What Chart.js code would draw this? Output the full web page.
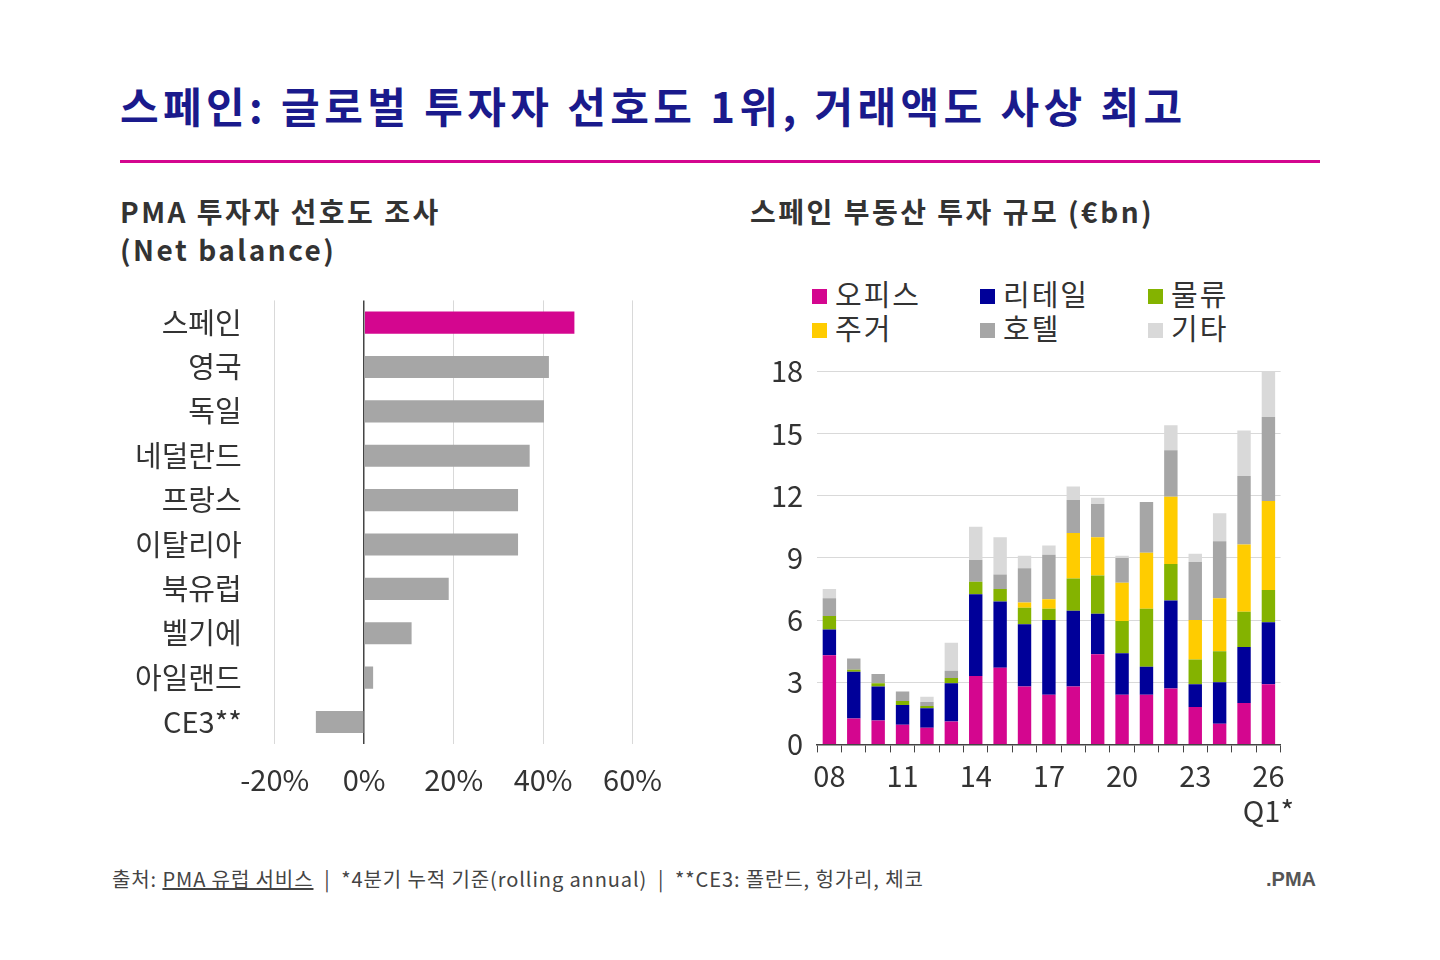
<!DOCTYPE html>
<html><head><meta charset="utf-8">
<script src="https://cdn.jsdelivr.net/npm/chart.js@4/dist/chart.umd.min.js"></script>
<style>
body{margin:0;width:1440px;height:960px;background:#fff;font-family:"Noto Sans CJK KR",Arial,sans-serif;position:relative;overflow:hidden}
.abs{position:absolute}
h1{position:absolute;left:120px;top:74px;margin:0;font-size:42px;font-weight:700;color:#1a1a8c;letter-spacing:4.4px;white-space:nowrap}
.rule{left:120px;top:160px;width:1200px;height:3px;background:#d4068f}
.sub{font-size:28px;font-weight:700;color:#333;line-height:38px;letter-spacing:2.5px}
.leg{left:812px;top:276px;font-size:29px;color:#333;display:grid;grid-template-columns:168px 168px 120px;line-height:34px;letter-spacing:2px}
.leg span i{display:inline-block;width:15px;height:15px;margin-right:8px;vertical-align:middle;position:relative;top:-2px}
.foot{left:112px;top:864px;font-size:20px;color:#444;letter-spacing:0.9px;white-space:nowrap}
</style></head><body>
<h1>스페인: 글로벌 투자자 선호도 1위, 거래액도 사상 최고</h1>
<div class="abs rule"></div>
<div class="abs sub" style="left:120px;top:192px">PMA 투자자 선호도 조사<br>(Net balance)</div>
<div class="abs sub" style="left:750px;top:192px">스페인 부동산 투자 규모 (€bn)</div>
<div class="abs leg" id="leg"></div>
<div class="abs" style="left:110px;top:258px;width:570px;height:557px"><canvas id="c1"></canvas></div>
<div class="abs" style="left:757px;top:340px;width:543px;height:494px"><canvas id="c2"></canvas></div>
<div class="abs foot">출처: <u>PMA 유럽 서비스</u> &nbsp;|&nbsp; *4분기 누적 기준(rolling annual) &nbsp;|&nbsp; **CE3: 폴란드, 헝가리, 체코</div>
<div class="abs" style="left:1266px;top:868px;font-size:20px;font-weight:700;color:#555;font-family:Arial">.PMA</div>
<script>
var countries = ['스페인','영국','독일','네덜란드','프랑스','이탈리아','북유럽','벨기에','아일랜드','CE3**'];
var netBalance = [47, 41.3, 40.2, 37, 34.4, 34.4, 18.9, 10.6, 2, -10.8];

var years = ['08','09','10','11','12','13','14','15','16','17','18','19','20','21','22','23','24','25','26'];
var office      = [4.3,1.25,1.15,0.95,0.8,1.1,3.3,3.7,2.8,2.4,2.8,4.35,2.4,2.4,2.7,1.8,1.0,2.0,2.9];
var retail      = [1.25,2.25,1.65,0.95,0.95,1.85,3.95,3.2,3.0,3.6,3.65,1.95,2.0,1.35,4.25,1.1,2.0,2.7,3.0];
var logistics   = [0.65,0.1,0.15,0.2,0.1,0.25,0.6,0.6,0.8,0.55,1.55,1.85,1.55,2.8,1.75,1.2,1.5,1.7,1.55];
var residential = [0,0,0,0,0,0,0,0,0.25,0.45,2.2,1.85,1.85,2.7,3.25,1.9,2.55,3.25,4.3];
var hotel       = [0.85,0.55,0.45,0.45,0.2,0.35,1.05,0.7,1.65,2.15,1.6,1.6,1.2,2.45,2.25,2.8,2.75,3.3,4.05];
var other       = [0.45,0,0,0,0.25,1.35,1.6,1.8,0.6,0.45,0.65,0.3,0.1,0,1.2,0.4,1.35,2.2,2.3];

var seriesNames = ['오피스','리테일','물류','주거','호텔','기타'];
var seriesColors = ['#d4068f','#000099','#84b300','#ffcc00','#a6a6a6','#d9d9d9'];
var seriesData = [office, retail, logistics, residential, hotel, other];

document.getElementById('leg').innerHTML = seriesNames.map(function (n, i) {
  return '<span><i style="background:' + seriesColors[i] + '"></i>' + n + '</span>';
}).join('');

var font = { family: '"Noto Sans CJK KR", Arial, sans-serif', size: 29 };
var tickColor = '#333';

new Chart(document.getElementById('c1'), {
  type: 'bar',
  data: { labels: countries, datasets: [{
    data: netBalance,
    backgroundColor: netBalance.map(function (v, i) { return i === 0 ? '#d4068f' : '#a6a6a6'; }),
    barPercentage: 0.5, categoryPercentage: 1
  }] },
  options: {
    indexAxis: 'y', responsive: true, maintainAspectRatio: false, animation: false,
    plugins: { legend: { display: false }, tooltip: { enabled: false } },
    layout: { padding: { right: 20 } },
    scales: {
      x: { min: -20, max: 60,
        ticks: { stepSize: 20, color: tickColor, font: font, padding: 18, callback: function (v) { return v + '%'; } },
        grid: { color: function (c) { return c.tick && c.tick.value === 0 ? '#444' : '#d9d9d9'; }, lineWidth: function (c) { return c.tick && c.tick.value === 0 ? 1.5 : 1; }, drawTicks: false },
        border: { display: false } },
      y: { ticks: { color: tickColor, font: font, padding: 25 }, grid: { display: false }, border: { display: false } }
    }
  }
});

new Chart(document.getElementById('c2'), {
  type: 'bar',
  data: { labels: years, datasets: seriesData.map(function (d, i) {
    return { label: seriesNames[i], data: d, backgroundColor: seriesColors[i], barPercentage: 0.55, categoryPercentage: 1 };
  }) },
  options: {
    responsive: true, maintainAspectRatio: false, animation: false,
    plugins: { legend: { display: false }, tooltip: { enabled: false } },
    scales: {
      x: { stacked: true,
        ticks: { color: tickColor, font: font, maxRotation: 0, autoSkip: false, padding: 6,
          callback: function (v, i) { if (i === years.length - 1) return ['26', 'Q1*']; return i % 3 === 0 ? years[i] : ''; } },
        grid: { offset: true, drawOnChartArea: false, tickLength: 8, color: '#444' },
        border: { color: '#444', width: 1.5 } },
      y: { stacked: true, min: 0, max: 18,
        ticks: { stepSize: 3, color: tickColor, font: font, padding: 14 },
        grid: { color: '#d9d9d9', drawTicks: false },
        border: { display: false } }
    }
  }
});
</script>
</body></html>
